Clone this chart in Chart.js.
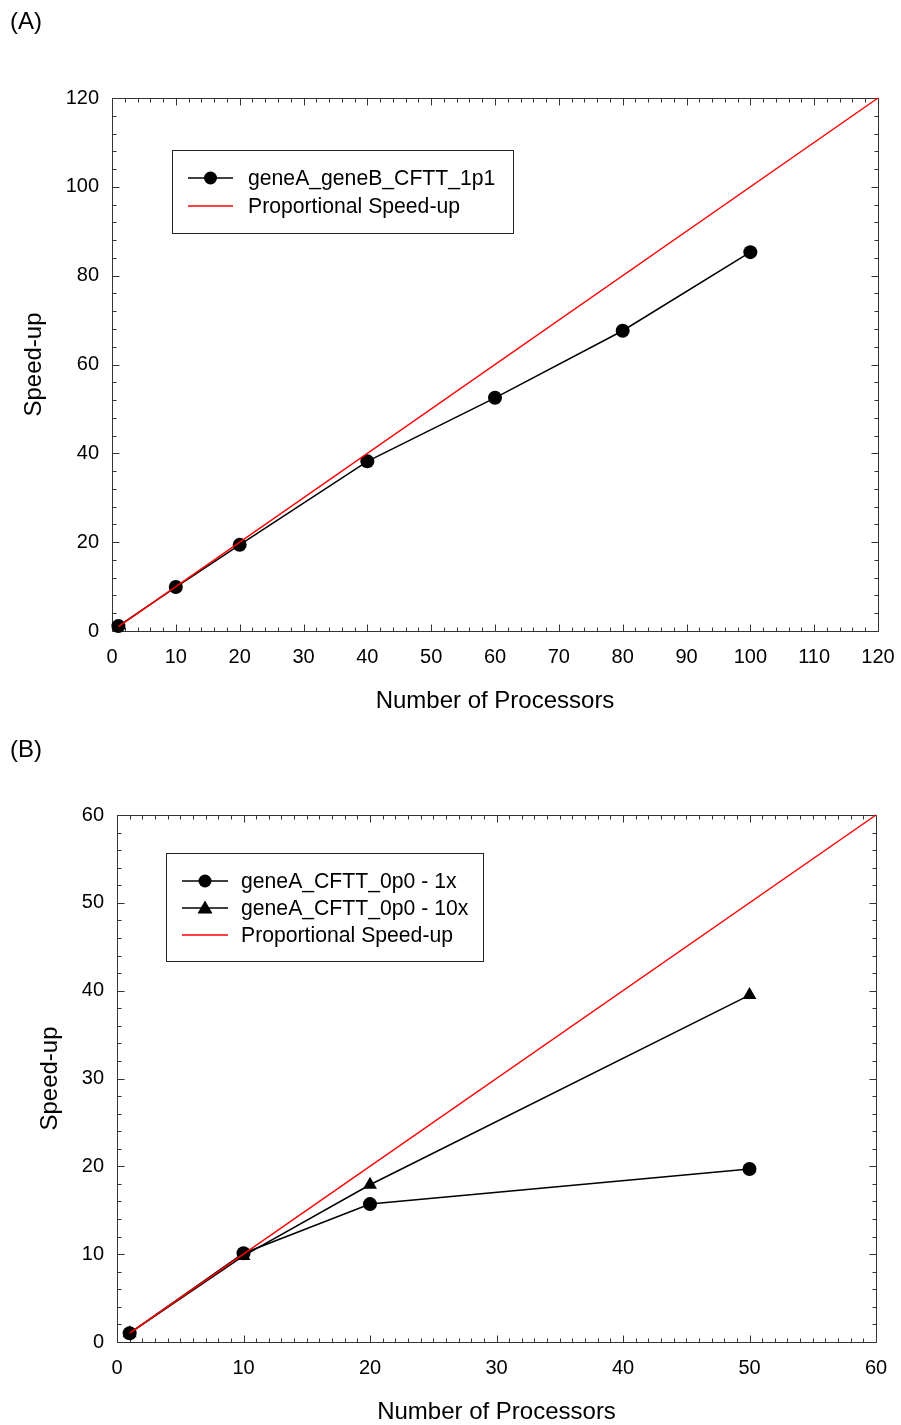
<!DOCTYPE html>
<html><head><meta charset="utf-8">
<script src="https://cdn.jsdelivr.net/npm/chart.js@4.4.0/dist/chart.umd.min.js"></script>
<style>
html,body{margin:0;padding:0;background:#fff;}
canvas{position:absolute;left:0;}
#ca{top:0;}
#cb{top:712px;}
</style></head><body>
<canvas id="ca" width="901" height="716"></canvas>
<canvas id="cb" width="901" height="713"></canvas>
<script>
// ---- Data ----
const procA = [1, 10, 20, 40, 60, 80, 100];
const speedA = [1.1, 9.9, 19.4, 38.2, 52.5, 67.6, 85.3];
const propAX = [1, 120];
const propAY = [1, 120];

const procB = [1, 10, 20, 50];
const speedB1x = [1.0, 10.1, 15.7, 19.7];
const speedB10x = [1.0, 9.8, 17.9, 39.5];
const propBX = [1, 60];
const propBY = [1, 60];

const labelA1 = 'geneA_geneB_CFTT_1p1';
const labelB1 = 'geneA_CFTT_0p0 - 1x';
const labelB2 = 'geneA_CFTT_0p0 - 10x';
const labelProp = 'Proportional Speed-up';

const xTicksA = [0,10,20,30,40,50,60,70,80,90,100,110,120];
const yTicksA = [0,20,40,60,80,100,120];
const xTicksB = [0,10,20,30,40,50,60];
const yTicksB = [0,10,20,30,40,50,60];

const FONT = "'Liberation Sans', Arial, Helvetica, sans-serif";

function pts(xs, ys){ return xs.map((x,i)=>({x:x, y:ys[i]})); }

// frame with inward ticks on all four sides
const framePlugin = {
  id: 'frame',
  beforeDatasetsDraw(chart, args, o) {
    const {ctx, chartArea: a, scales: {x, y}} = chart;
    ctx.save();
    ctx.strokeStyle = '#333';
    ctx.lineWidth = 1;
    const L = Math.round(a.left)+0.5, R = Math.round(a.right)+0.5, T = Math.round(a.top)+0.5, B = Math.round(a.bottom)+0.5;
    ctx.beginPath();
    ctx.rect(L, T, R-L, B-T);
    ctx.stroke();
    ctx.beginPath();
    const eps = 1e-6;
    for (let v = x.min; v <= x.max + eps; v += o.xMinor) {
      const major = Math.abs(v/o.xMajor - Math.round(v/o.xMajor)) < eps;
      const len = major ? 7 : 4;
      const px = Math.round(x.getPixelForValue(v)) + 0.5;
      ctx.moveTo(px, B); ctx.lineTo(px, B-len);
      ctx.moveTo(px, T); ctx.lineTo(px, T+len);
    }
    for (let v = y.min; v <= y.max + eps; v += o.yMinor) {
      const major = Math.abs(v/o.yMajor - Math.round(v/o.yMajor)) < eps;
      const len = major ? 7 : 4;
      const py = Math.round(y.getPixelForValue(v)) + 0.5;
      ctx.moveTo(L, py); ctx.lineTo(L+len, py);
      ctx.moveTo(R, py); ctx.lineTo(R-len, py);
    }
    ctx.stroke();
    ctx.restore();
  },
  afterDraw(chart, args, o) {
    const ctx = chart.ctx;
    ctx.save();
    // panel label
    ctx.fillStyle = '#000';
    ctx.font = '24px ' + FONT;
    ctx.textBaseline = 'middle';
    ctx.textAlign = 'left';
    ctx.fillText(o.panel, o.panelX, o.panelY);
    // legend
    const b = o.box;
    ctx.strokeStyle = '#222';
    ctx.lineWidth = 1;
    ctx.strokeRect(b.x+0.5, b.y+0.5, b.w, b.h);
    ctx.font = o.legendFont + 'px ' + FONT;
    chart.data.datasets.forEach((ds, i) => {
      const ry = o.rowY[i];
      ctx.strokeStyle = ds.borderColor;
      ctx.lineWidth = ds.borderWidth;
      ctx.beginPath();
      ctx.moveTo(o.sx0, ry); ctx.lineTo(o.sx1, ry);
      ctx.stroke();
      const mx = (o.sx0 + o.sx1)/2;
      ctx.fillStyle = '#000';
      if (ds.pointStyle === 'circle' && ds.pointRadius > 0) {
        ctx.beginPath(); ctx.arc(mx, ry, 6.5, 0, Math.PI*2); ctx.fill();
      } else if (ds.pointStyle === 'triangle' && ds.pointRadius > 0) {
        ctx.beginPath();
        ctx.moveTo(mx, ry-7.5); ctx.lineTo(mx+7.5, ry+5.5); ctx.lineTo(mx-7.5, ry+5.5); ctx.closePath(); ctx.fill();
      }
      ctx.fillStyle = '#000';
      ctx.fillText(ds.label, o.tx, ry+1);
    });
    ctx.restore();
  }
};

function makeChart(id, H, plot, xr, yr, xTicks, yTicks, datasets, frameOpts, titlePad) {
  return new Chart(document.getElementById(id), {
    type: 'scatter',
    data: { datasets },
    options: {
      responsive: false,
      animation: false,
      devicePixelRatio: 1,
      layout: { padding: { left: 0, top: plot.top, right: 901 - plot.right, bottom: 0 } },
      plugins: { legend: { display: false }, tooltip: { enabled: false }, frame: frameOpts },
      elements: { line: { tension: 0 } },
      scales: {
        x: {
          type: 'linear', min: xr[0], max: xr[1],
          afterFit(s) { s.height = H - plot.bottom; s.paddingLeft = 0; s.paddingRight = 0; },
          afterBuildTicks(s) { s.ticks = xTicks.map(v => ({value: v})); },
          ticks: { font: { size: 20, family: FONT }, color: '#000', padding: 14, maxRotation: 0, autoSkip: false },
          grid: { display: false, drawTicks: false },
          border: { display: false },
          title: { display: true, text: 'Number of Processors', color: '#000', font: { size: 24, family: FONT }, padding: { top: 0, bottom: titlePad.x } }
        },
        y: {
          type: 'linear', min: yr[0], max: yr[1],
          afterFit(s) { s.width = plot.left; s.paddingTop = 0; s.paddingBottom = 0; },
          afterBuildTicks(s) { s.ticks = yTicks.map(v => ({value: v})); },
          ticks: { font: { size: 20, family: FONT }, color: '#000', padding: 13, autoSkip: false },
          grid: { display: false, drawTicks: false },
          border: { display: false },
          title: { display: true, text: 'Speed-up', color: '#000', font: { size: 24, family: FONT }, padding: { top: titlePad.y, bottom: 0 } }
        }
      }
    },
    plugins: [framePlugin]
  });
}

const black = (label, xs, ys, style) => ({
  label, data: pts(xs, ys), showLine: true, borderColor: '#000', backgroundColor: '#000',
  borderWidth: 1.5, pointStyle: style, pointRadius: style === 'triangle' ? 8 : 7,
  pointBorderWidth: 0, clip: false, order: 1
});
const red = (xs, ys) => ({
  label: labelProp, data: pts(xs, ys), showLine: true, borderColor: '#ff0000', backgroundColor: '#ff0000',
  borderWidth: 1.5, pointRadius: 0, pointStyle: 'line', clip: false, order: 0
});

makeChart('ca', 716, {left:112, right:878, top:98, bottom:631}, [0,120], [0,120], xTicksA, yTicksA,
  [black(labelA1, procA, speedA, 'circle'), red(propAX, propAY)],
  { xMinor: 2, xMajor: 10, yMinor: 4, yMajor: 20, panel: '(A)', panelX: 10, panelY: 22,
    box: {x:172, y:150, w:341, h:83}, rowY: [178, 206], sx0: 188, sx1: 233, tx: 248, legendFont: 21.2 },
  { x: 0, y: 20 });

makeChart('cb', 713, {left:117, right:876, top:103, bottom:630}, [0,60], [0,60], xTicksB, yTicksB,
  [black(labelB1, procB, speedB1x, 'circle'), black(labelB2, procB, speedB10x, 'triangle'), red(propBX, propBY)],
  { xMinor: 1, xMajor: 10, yMinor: 2, yMajor: 10, panel: '(B)', panelX: 10, panelY: 38,
    box: {x:166, y:141, w:317, h:108}, rowY: [169, 196, 223], sx0: 182, sx1: 228, tx: 241, legendFont: 21.2 },
  { x: -2, y: 36 });
</script>
</body></html>
